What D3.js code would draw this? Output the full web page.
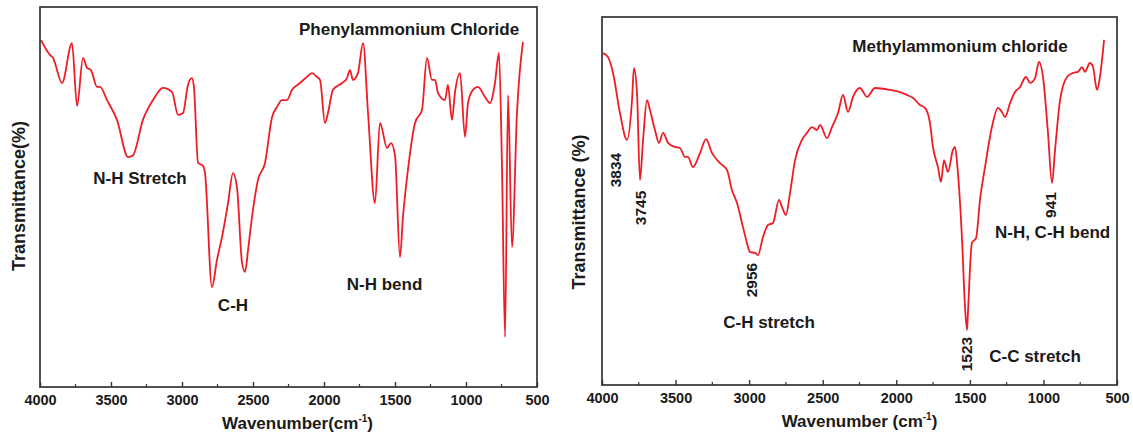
<!DOCTYPE html>
<html>
<head>
<meta charset="utf-8">
<script src="https://cdn.jsdelivr.net/npm/d3@7"></script>
<style>
  body { margin: 0; background: #fff; }
  svg text { font-family: "Liberation Sans", Arial, sans-serif; font-weight: bold; fill: #1a1a1a; }
</style>
</head>
<body>
<div id="chart"></div>
<script>
// wavenumber ticks (cm-1)
const xTicks = [4000, 3500, 3000, 2500, 2000, 1500, 1000, 500];
const xMinor = [3750, 3250, 2750, 2250, 1750, 1250, 750];

// Phenylammonium chloride spectrum
const phenylWn = [3993, 3930, 3908, 3845, 3775, 3739, 3697, 3669, 3641, 3599, 3577, 3528, 3458, 3380, 3345, 3275, 3204, 3134, 3070, 3028,
  2993, 2958, 2930, 2916, 2887, 2852, 2838, 2789, 2754, 2718, 2676, 2641, 2613, 2577, 2556, 2535, 2507, 2465, 2416, 2366,
  2331, 2296, 2261, 2225, 2169, 2120, 2085, 2049, 2028, 1993, 1972, 1937, 1873, 1838, 1817, 1796, 1761, 1725, 1690, 1641,
  1606, 1556, 1528, 1500, 1465, 1444, 1409, 1359, 1310, 1275, 1240, 1218, 1197, 1148, 1127, 1099, 1078, 1042, 1007, 986,
  951, 916, 866, 831, 796, 768, 747, 725, 704, 676, 641, 599];
const phenylT = [91.3, 87.4, 86.6, 80, 90.5, 74, 86.6, 84, 83.4, 79, 79, 75.5, 70.3, 60.5, 61, 70.3, 75.5, 78.7, 77.6, 71.6,
  72.1, 79.5, 81.3, 79, 59, 58.2, 56.3, 26.3, 33.4, 39.5, 48.4, 56.3, 52.6, 32.6, 30.3, 36, 44.7, 54.5, 58.9, 71,
  73.7, 75.5, 75.5, 78.2, 80, 81.6, 82.6, 81.6, 80.8, 69.5, 72.1, 78.2, 80, 81.3, 83.4, 80.8, 82.6, 90.5, 72.1, 48.4,
  69.5, 62.9, 64.2, 61, 34.2, 44.7, 57.1, 69.5, 72.9, 86.6, 80.8, 80.8, 77.4, 75.5, 79.5, 70.3, 77.4, 82.6, 65.8, 74.7,
  78.2, 79, 76.3, 74.7, 80, 87.9, 58.9, 13.2, 76.8, 36.8, 72.1, 90.8];

// Methylammonium chloride spectrum
const methylWn = [3993, 3959, 3925, 3878, 3830, 3796, 3783, 3762, 3742, 3721, 3694, 3674, 3640, 3613, 3585, 3551, 3504, 3470, 3436, 3416,
  3382, 3334, 3293, 3252, 3198, 3150, 3117, 3083, 3042, 3015, 2994, 2960, 2940, 2906, 2872, 2838, 2797, 2777, 2750, 2722,
  2688, 2641, 2607, 2573, 2539, 2518, 2471, 2437, 2396, 2362, 2328, 2294, 2247, 2199, 2145, 2043, 1975, 1927, 1886, 1839,
  1805, 1771, 1751, 1717, 1696, 1676, 1649, 1615, 1601, 1581, 1553, 1533, 1519, 1513, 1486, 1458, 1431, 1397, 1350, 1309,
  1282, 1261, 1227, 1193, 1159, 1119, 1091, 1057, 1030, 1003, 969, 942, 921, 887, 840, 799, 765, 738, 718, 684,
  663, 636, 616, 588];
const methylT = [90.2, 89.1, 84.8, 73.9, 66.6, 77.4, 86.1, 79.3, 55.7, 66.6, 77.4, 74.7, 69.3, 65.8, 68.5, 65.8, 64.7, 64.4, 62, 62,
  59.2, 63, 66.8, 63, 60.3, 58.4, 53, 49.5, 42.9, 38.6, 36.1, 35.9, 35.3, 40.2, 43.5, 44, 50.3, 48.4, 46.2, 52.2,
  61.1, 66.6, 68.5, 70.1, 69.3, 70.7, 67.1, 70.1, 73.9, 78.8, 74.2, 78.3, 80.7, 78.3, 80.7, 80.2, 79.6, 78.8, 78, 76.1,
  75.3, 71.2, 64.7, 59.2, 55.2, 61.1, 57.9, 63.9, 64.7, 57.6, 39.4, 21.2, 14.9, 19.6, 38.6, 39.9, 50.3, 59.2, 70.1, 75.3,
  74.2, 72.8, 76.6, 79.6, 81, 83.7, 82.1, 83.4, 87.8, 83.7, 68.5, 54.9, 63.9, 77.4, 83.7, 84.8, 85.1, 86.4, 85.1, 87.5,
  86.4, 80.2, 83.7, 93.8];

// annotation texts, anchored in data units (wavenumber, transmittance)
const phenylNotes = [
  {text: "Phenylammonium Chloride", wn: 1401, t: 93.9, rot: false},
  {text: "N-H Stretch", wn: 3296, t: 54.5, rot: false},
  {text: "C-H", wn: 2641, t: 21.1, rot: false},
  {text: "N-H bend", wn: 1574, t: 26.6, rot: false}
];
const methylNotes = [
  {text: "Methylammonium chloride", wn: 1567, t: 91.6, rot: false},
  {text: "3834", wn: 3898, t: 58.4, rot: true},
  {text: "3745", wn: 3728, t: 48.1, rot: true},
  {text: "2956", wn: 2974, t: 28.5, rot: true},
  {text: "C-H stretch", wn: 2865, t: 16.8, rot: false},
  {text: "1523", wn: 1513, t: 8.4, rot: true},
  {text: "C-C stretch", wn: 1057, t: 7.6, rot: false},
  {text: "941", wn: 942, t: 48.9, rot: true},
  {text: "N-H, C-H bend", wn: 938, t: 41.3, rot: false}
];

const svg = d3.select("#chart").append("svg")
  .attr("width", 1133)
  .attr("height", 441);

function drawPanel(opts) {
  const {left, top, right, bottom, wn, t, notes, yLabel, xLabel} = opts;

  const x = d3.scaleLinear().domain([4000, 500]).range([left, right]);
  const y = d3.scaleLinear().domain([0, 100]).range([bottom, top]);

  const g = svg.append("g");

  // spectrum line
  const pts = wn.map((d, i) => [d, t[i]]);
  g.append("path")
    .datum(pts)
    .attr("fill", "none")
    .attr("stroke", "#ee1c25")
    .attr("stroke-width", 1.8)
    .attr("stroke-linejoin", "round")
    .attr("d", d3.line().curve(d3.curveMonotoneX).x(d => x(d[0])).y(d => y(d[1])));

  // frame
  g.append("rect")
    .attr("x", left).attr("y", top)
    .attr("width", right - left).attr("height", bottom - top)
    .attr("fill", "none")
    .attr("stroke", "#333")
    .attr("stroke-width", 1.7);

  // bottom axis with inward ticks
  const ax = g.append("g")
    .attr("transform", `translate(0,${bottom})`)
    .call(d3.axisBottom(x).tickValues(xTicks).tickSize(-5).tickPadding(10).tickFormat(d3.format("d")));
  ax.select(".domain").remove();
  ax.selectAll(".tick line").attr("stroke", "#333").attr("stroke-width", 1.4);
  ax.selectAll(".tick text")
    .attr("font-size", 14.5)
    .attr("font-family", null)
    .attr("fill", "#1a1a1a")
    .attr("dy", "0.55em");

  g.selectAll(".minor")
    .data(xMinor)
    .join("line")
    .attr("class", "minor")
    .attr("x1", d => x(d)).attr("x2", d => x(d))
    .attr("y1", bottom).attr("y2", bottom - 3)
    .attr("stroke", "#333").attr("stroke-width", 1.2);

  // axis titles
  const xl = g.append("text")
    .attr("x", (left + right) / 2 + opts.xLabelShift)
    .attr("y", bottom + 42)
    .attr("text-anchor", "middle")
    .attr("font-size", 17);
  xl.append("tspan").text(xLabel);
  xl.append("tspan").attr("font-size", 10).attr("dy", -7).text("-1");
  xl.append("tspan").attr("dy", 7).text(")");

  g.append("text")
    .attr("transform", `translate(${opts.yLabelX},${opts.yLabelY}) rotate(-90)`)
    .attr("text-anchor", "middle")
    .attr("dominant-baseline", "middle")
    .attr("font-size", 18)
    .text(yLabel);

  // annotations
  g.selectAll(".note")
    .data(notes)
    .join("text")
    .attr("class", "note")
    .attr("text-anchor", "middle")
    .attr("dominant-baseline", "middle")
    .attr("font-size", d => d.rot ? 15.5 : 17)
    .attr("transform", d => `translate(${x(d.wn)},${y(d.t)})` + (d.rot ? " rotate(-90)" : ""))
    .text(d => d.text);
}

drawPanel({
  left: 40, top: 7, right: 537, bottom: 387,
  wn: phenylWn, t: phenylT, notes: phenylNotes,
  yLabel: "Transmittance(%)", xLabel: "Wavenumber(cm",
  yLabelX: 20, yLabelY: 196, xLabelShift: 9
});

drawPanel({
  left: 602, top: 17, right: 1117, bottom: 385,
  wn: methylWn, t: methylT, notes: methylNotes,
  yLabel: "Transmittance (%)", xLabel: "Wavenumber (cm",
  yLabelX: 580, yLabelY: 212, xLabelShift: 0
});
</script>
</body>
</html>
